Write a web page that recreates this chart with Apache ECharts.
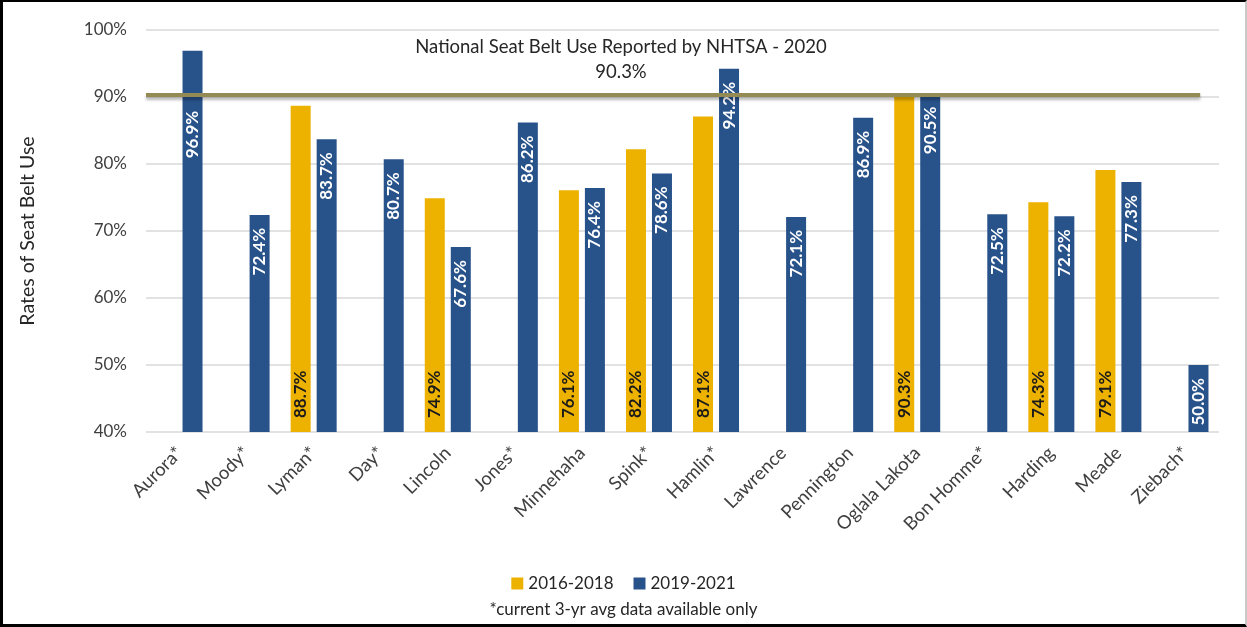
<!DOCTYPE html>
<html>
<head>
<meta charset="utf-8">
<script src="https://cdn.jsdelivr.net/npm/echarts@6/dist/echarts.min.js"></script>
<style>
  html, body { margin: 0; padding: 0; background: #fff; }
  #chart { position: absolute; left: 0; top: 0; width: 1247px; height: 627px; }
  #frame {
    position: absolute; left: 0; top: 0; width: 1247px; height: 627px;
    box-sizing: border-box; pointer-events: none;
    border-left: 3px solid #000; border-top: 2px solid #000;
    border-bottom: 3px solid #000; border-right: 2px solid #c8c8c8;
  }
</style>
</head>
<body>
<div id="chart"></div>
<div id="frame"></div>
<script>
// Seat belt use rates by county, South Dakota
const counties = ['Aurora*', 'Moody*', 'Lyman*', 'Day*', 'Lincoln', 'Jones*', 'Minnehaha', 'Spink*',
  'Hamlin*', 'Lawrence', 'Pennington', 'Oglala Lakota', 'Bon Homme*', 'Harding', 'Meade', 'Ziebach*'];
const rate2016to2018 = [null, null, 88.7, null, 74.9, null, 76.1, 82.2, 87.1, null, null, 90.3, null, 74.3, 79.1, null];
const rate2019to2021 = [96.9, 72.4, 83.7, 80.7, 67.6, 86.2, 76.4, 78.6, 94.2, 72.1, 86.9, 90.5, 72.5, 72.2, 77.3, 50.0];
const yTicks = [40, 50, 60, 70, 80, 90, 100];
const nhtsaRate = 90.3;
const nhtsaTitle = 'National Seat Belt Use Reported by NHTSA - 2020';
const footnote = '*current 3-yr avg data available only';

const FONT = 'Lato, "Open Sans", sans-serif';
const GOLD = '#EDB200';
const BLUE = '#28528A';

const chart = echarts.init(document.getElementById('chart'), null, { renderer: 'canvas' });

const pct = v => v.toFixed(1) + '%';

chart.setOption({
  animation: false,
  textStyle: { fontFamily: FONT },
  grid: { left: 146, right: 28, top: 30, bottom: 195 },
  legend: {
    bottom: 30, left: 'center',
    itemWidth: 12, itemHeight: 12, itemGap: 20,
    icon: 'rect',
    textStyle: { fontSize: 17, color: '#262626', fontFamily: FONT },
    data: ['2016-2018', '2019-2021']
  },
  graphic: [
    {
      type: 'text', left: 'center', bottom: 9,
      style: { text: footnote, fontSize: 17, fill: '#262626', fontFamily: FONT }
    },
    {
      type: 'text', x: 621, y: 35,
      style: {
        text: nhtsaTitle + '\n' + pct(nhtsaRate),
        fontSize: 18.5, lineHeight: 25, fill: '#262626', fontFamily: FONT,
        align: 'center', verticalAlign: 'top'
      }
    }
  ],
  xAxis: [
    {
      type: 'category', data: counties,
      axisLine: { show: false }, axisTick: { show: false },
      axisLabel: { rotate: 45, fontSize: 18.5, color: '#404040', margin: 18, interval: 0, fontFamily: FONT }
    },
    { type: 'value', min: 0, max: counties.length, show: false }
  ],
  yAxis: {
    type: 'value', min: yTicks[0], max: yTicks[yTicks.length - 1], interval: 10,
    name: 'Rates of Seat Belt Use', nameLocation: 'middle', nameGap: 108,
    nameTextStyle: { fontSize: 19.5, color: '#262626', fontFamily: FONT },
    axisLine: { show: false }, axisTick: { show: false },
    axisLabel: { formatter: '{value}%', fontSize: 17, color: '#404040', margin: 19, fontFamily: FONT },
    splitLine: { lineStyle: { color: '#d9d9d9', width: 1.5 } }
  },
  series: [
    {
      name: '2016-2018', type: 'bar', data: rate2016to2018,
      barWidth: 20, barGap: '30%',
      itemStyle: { color: GOLD },
      label: {
        show: true, position: 'insideBottom', rotate: 90, distance: 14,
        align: 'left', verticalAlign: 'middle',
        formatter: p => pct(p.value), fontSize: 17, fontWeight: 'bold', color: '#1a1a1a', fontFamily: FONT
      }
    },
    {
      name: '2019-2021', type: 'bar',
      data: rate2019to2021.map((v, i) => i === 0 ? { value: v, label: { distance: 60 } } : v),
      barWidth: 20,
      itemStyle: { color: BLUE },
      label: {
        show: true, position: 'insideTop', rotate: 90, distance: 13,
        align: 'right', verticalAlign: 'middle',
        formatter: p => pct(p.value), fontSize: 17, fontWeight: 'bold', color: '#fff', fontFamily: FONT
      }
    },
    {
      name: 'NHTSA 2020', type: 'line', xAxisIndex: 1,
      data: [[0, nhtsaRate], [counties.length - 0.28, nhtsaRate]],
      symbol: 'none', silent: true, z: 5,
      lineStyle: {
        color: '#948A54', width: 4,
        shadowColor: 'rgba(0,0,0,0.28)', shadowBlur: 3, shadowOffsetY: 3
      }
    }
  ]
});
</script>
</body>
</html>
